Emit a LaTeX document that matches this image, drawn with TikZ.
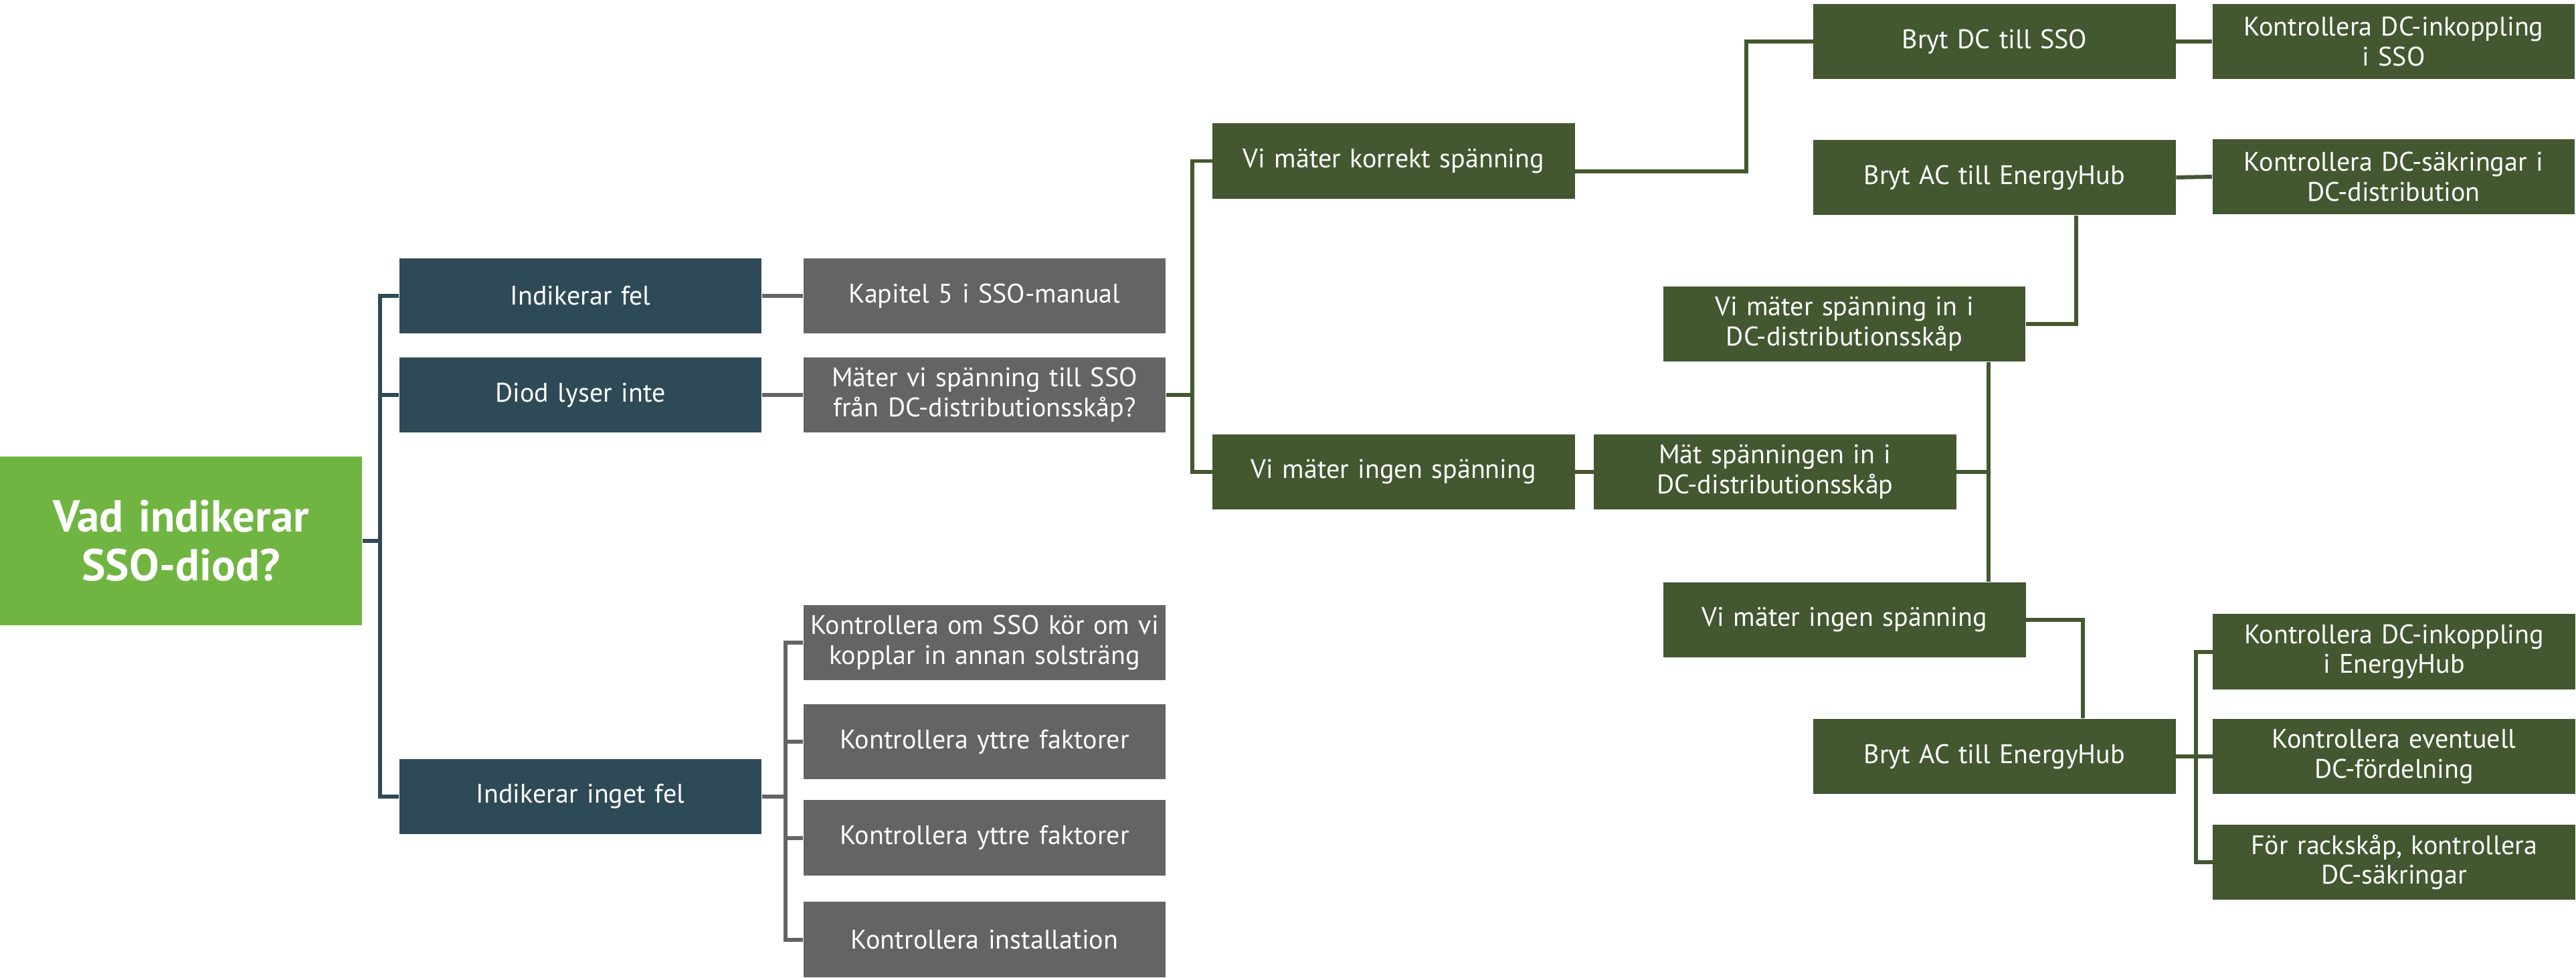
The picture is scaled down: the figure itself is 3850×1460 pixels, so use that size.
\documentclass[tikz,border=0pt]{standalone}
\usepackage{fontspec}
\setmainfont{PT Sans}
\usetikzlibrary{calc}
\definecolor{RootClr}{RGB}{112,181,65}
\definecolor{TealClr}{RGB}{46,74,87}
\definecolor{GrayClr}{RGB}{100,100,100}
\definecolor{LeafClr}{RGB}{67,87,48}

\begin{document}
\begin{tikzpicture}[x=0.01cm,y=-0.01cm,
  box/.style={rectangle,text=white,text width=5.33cm,align=center,
    minimum height=1.12cm,inner xsep=0.04cm,inner ysep=0pt,
    font=\fontsize{11.4pt}{12.7pt}\selectfont},
  rootbox/.style={box,fill=RootClr,minimum height=2.52cm,
    font=\fontsize{19pt}{20.8pt}\selectfont\bfseries},
  tealbox/.style={box,fill=TealClr},
  graybox/.style={box,fill=GrayClr},
  leafbox/.style={box,fill=LeafClr},
  tealline/.style={draw=TealClr,line width=1.7pt},
  grayline/.style={draw=GrayClr,line width=1.7pt},
  leafline/.style={draw=LeafClr,line width=1.7pt}]
\useasboundingbox (0,0) rectangle (3850,1460);

\node[rootbox] (root) at (270.5,808) {Vad indikerar\\SSO-diod?};

\node[tealbox] (fel) at (867.5,442) {Indikerar fel};
\node[tealbox] (diod) at (867.5,590) {Diod lyser inte};
\node[tealbox] (inget) at (867.5,1190) {Indikerar inget fel};

\node[graybox] (kap) at (1471.5,442) {Kapitel 5 i SSO-manual};
\node[graybox] (mater) at (1471.5,590) {Mäter vi spänning till SSO\\från DC-distributionsskåp?};
\node[graybox] (kssol) at (1471.5,960) {Kontrollera om SSO kör om vi\\kopplar in annan solsträng};
\node[graybox] (kyttre) at (1471.5,1108) {Kontrollera yttre faktorer};
\node[graybox] (kyttreb) at (1471.5,1251.5) {Kontrollera yttre faktorer};
\node[graybox] (kinst) at (1471.5,1403.5) {Kontrollera installation};

\node[leafbox] (korr) at (2083,240.5) {Vi mäter korrekt spänning};
\node[leafbox] (ingen) at (2083,705) {Vi mäter ingen spänning};
\node[leafbox] (brytdc) at (2981,62) {Bryt DC till SSO};
\node[leafbox] (kdcsso) at (3577.5,62) {Kontrollera DC-inkoppling\\i SSO};
\node[leafbox] (brytac) at (2981,265) {Bryt AC till EnergyHub};
\node[leafbox] (ksak) at (3577.5,264) {Kontrollera DC-säkringar i\\DC-distribution};
\node[leafbox] (spin) at (2756.5,484) {Vi mäter spänning in i\\DC-distributionsskåp};
\node[leafbox] (mat) at (2653,705) {Mät spänningen in i\\DC-distributionsskåp};
\node[leafbox] (ingenb) at (2757,926) {Vi mäter ingen spänning};
\node[leafbox] (brytacb) at (2981,1130) {Bryt AC till EnergyHub};
\node[leafbox] (kinh) at (3578,973.5) {Kontrollera DC-inkoppling\\i EnergyHub};
\node[leafbox] (kfd) at (3578,1130) {Kontrollera eventuell\\DC-fördelning};
\node[leafbox] (krack) at (3578,1288) {För rackskåp, kontrollera\\DC-säkringar};

% bus points
\coordinate (b1) at (568,808);
\coordinate (b2) at (1174,1190);
\coordinate (b3) at (1782,590);
\coordinate (b4) at (2972,705);
\coordinate (b5) at (3282,1130);

\draw[tealline] (root.east) -- (b1);
\foreach \n in {fel,diod,inget} \draw[tealline] (\n.west) -| (b1);

\draw[grayline] (fel.east) -- (kap.west);
\draw[grayline] (diod.east) -- (mater.west);
\draw[grayline] (inget.east) -- (b2);
\foreach \n in {kssol,kyttre,kyttreb,kinst} \draw[grayline] (\n.west) -| (b2);

\draw[leafline] (mater.east) -- (b3);
\foreach \n in {korr,ingen} \draw[leafline] (\n.west) -| (b3);

\draw[leafline] ([yshift=-1.5mm]korr.east) -- ++(256,0) |- (brytdc.west);
\draw[leafline] (brytdc.east) -- (kdcsso.west);
\draw[leafline] (brytac.east) -- (ksak.west);
\draw[leafline] ([xshift=1.22cm]brytac.south) |- (spin.east);
\draw[leafline] (ingen.east) -- (mat.west);
\draw[leafline] (mat.east) -- (b4);
\draw[leafline] (spin.south -| b4) -- (ingenb.north -| b4);
\draw[leafline] (ingenb.east) -| ([xshift=1.32cm]brytacb.north);
\draw[leafline] (brytacb.east) -- (b5);
\foreach \n in {kinh,kfd,krack} \draw[leafline] (\n.west) -| (b5);

\end{tikzpicture}
\end{document}
